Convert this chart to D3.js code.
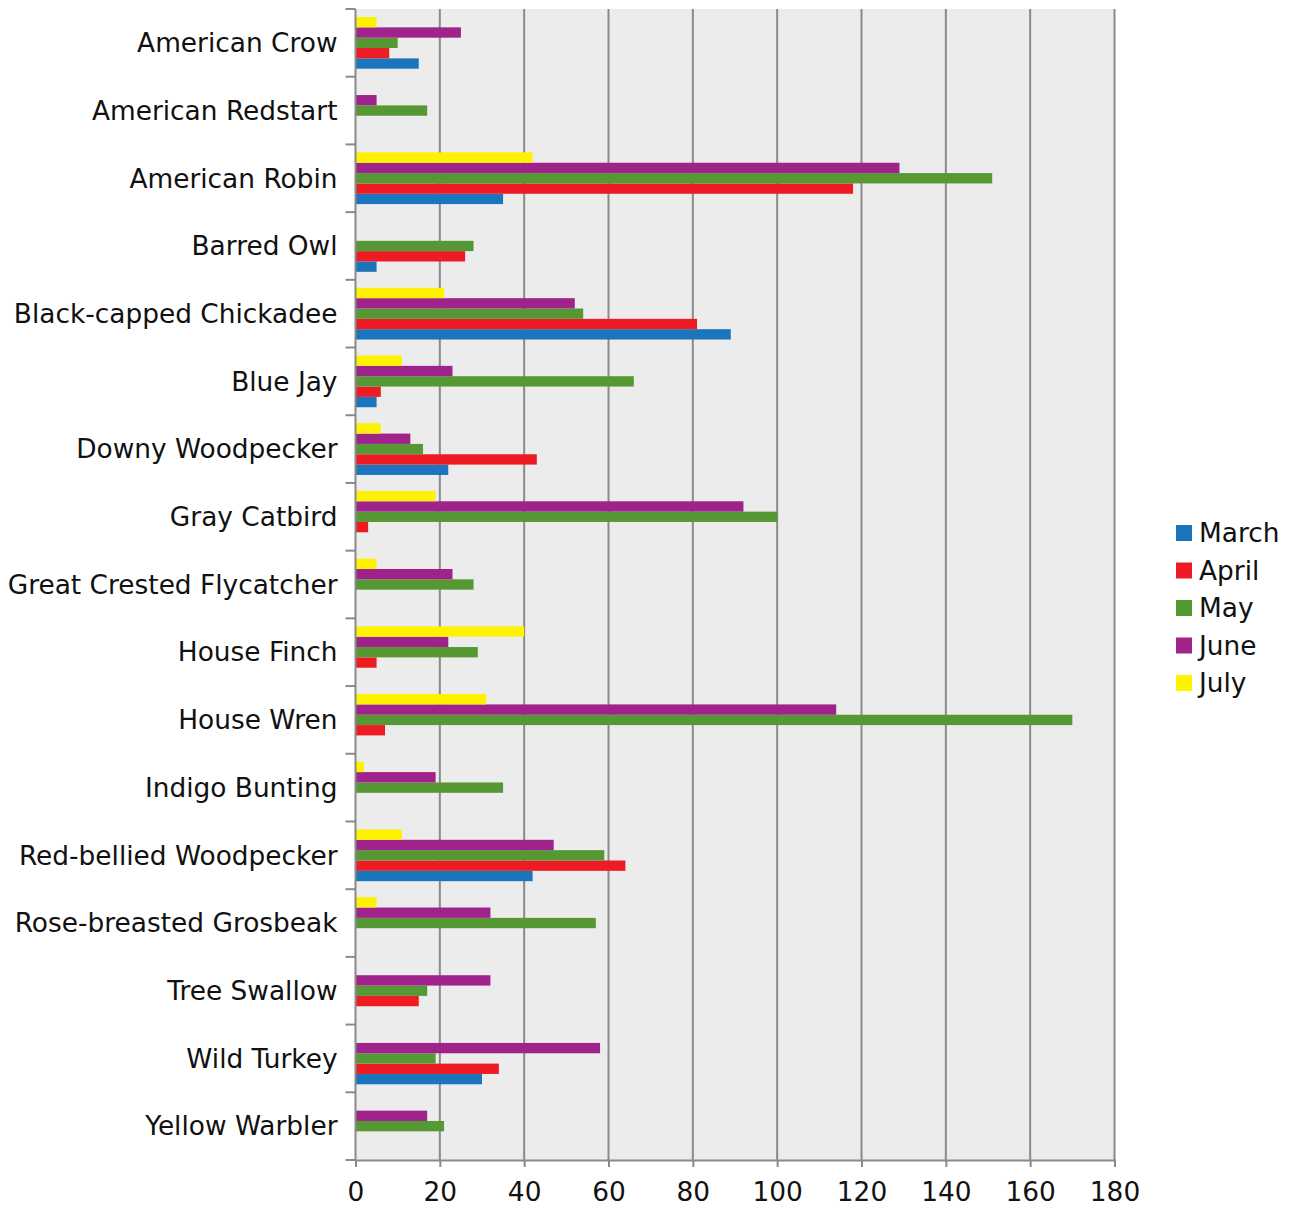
<!DOCTYPE html>
<html>
<head>
<meta charset="utf-8">
<script src="https://cdn.jsdelivr.net/npm/d3@7.9.0/dist/d3.min.js"></script>
<style>
  html, body { margin: 0; padding: 0; background: #fff; }
  svg { display: block; font-family: "DejaVu Sans", sans-serif; }
</style>
</head>
<body>
<svg id="chart" width="1294" height="1211"></svg>
<script>
// Bird species (top to bottom)
const birds = [
  'American Crow', 'American Redstart', 'American Robin', 'Barred Owl',
  'Black-capped Chickadee', 'Blue Jay', 'Downy Woodpecker', 'Gray Catbird',
  'Great Crested Flycatcher', 'House Finch', 'House Wren', 'Indigo Bunting',
  'Red-bellied Woodpecker', 'Rose-breasted Grosbeak', 'Tree Swallow',
  'Wild Turkey', 'Yellow Warbler'
];

const months = ['March', 'April', 'May', 'June', 'July'];

// counts per month, same order as birds
const march = [15, 0, 35, 5, 89, 5, 22, 0, 0, 0, 0, 0, 42, 0, 0, 30, 0];
const april = [8, 0, 118, 26, 81, 6, 43, 3, 0, 5, 7, 0, 64, 0, 15, 34, 0];
const may   = [10, 17, 151, 28, 54, 66, 16, 100, 28, 29, 170, 35, 59, 57, 17, 19, 21];
const june  = [25, 5, 129, 0, 52, 23, 13, 92, 23, 22, 114, 19, 47, 32, 32, 58, 17];
const july  = [5, 0, 42, 0, 21, 11, 6, 19, 5, 40, 31, 2, 11, 5, 0, 0, 0];

const xTicks = [0, 20, 40, 60, 80, 100, 120, 140, 160, 180];

const seriesValues = [march, april, may, june, july];
const colors = ['#1b75bc', '#ed1c24', '#569834', '#a0228b', '#fff200'];

const plotLeft = 355.5, plotRight = 1114.5, plotTop = 9, plotBottom = 1160;
const fontSize = 26.4;

const svg = d3.select('#chart');

let x = d3.scaleLinear().domain([0, 180]).range([plotLeft, plotRight]);
let y = d3.scaleBand().domain(birds).range([plotTop, plotBottom]).padding(0);

// months inside a band, July on top, March at bottom
let inner = d3.scaleBand()
  .domain(months.slice().reverse())
  .range([8, y.bandwidth() - 8]);

let color = d3.scaleOrdinal().domain(months).range(colors);

// plot background
svg.append('rect')
  .attr('x', plotLeft).attr('y', plotTop)
  .attr('width', plotRight - plotLeft).attr('height', plotBottom - plotTop)
  .attr('fill', '#ececec');

// vertical grid lines
svg.append('g')
  .selectAll('line')
  .data(xTicks.slice(1))
  .enter()
  .append('line')
  .attr('x1', (d) => x(d)).attr('x2', (d) => x(d))
  .attr('y1', plotTop).attr('y2', plotBottom)
  .attr('stroke', '#8a8a8a')
  .attr('stroke-width', 2);

// bars
let rows = [];
birds.forEach((b, i) => {
  months.forEach((m, j) => {
    let v = seriesValues[j][i];
    if (v > 0) rows.push({ bird: b, month: m, value: v });
  });
});

svg.append('g')
  .selectAll('rect')
  .data(rows)
  .enter()
  .append('rect')
  .attr('x', x(0))
  .attr('y', (d) => y(d.bird) + inner(d.month))
  .attr('width', (d) => x(d.value) - x(0))
  .attr('height', inner.bandwidth())
  .attr('fill', (d) => color(d.month));

// y axis line and boundary ticks
let yAxis = svg.append('g');
yAxis.append('line')
  .attr('x1', plotLeft).attr('x2', plotLeft)
  .attr('y1', plotTop).attr('y2', plotBottom)
  .attr('stroke', '#8a8a8a').attr('stroke-width', 2);

let bounds = birds.map((b) => y(b)).concat([plotBottom]);
yAxis.selectAll('.btick')
  .data(bounds)
  .enter()
  .append('line')
  .attr('class', 'btick')
  .attr('x1', plotLeft - 10).attr('x2', plotLeft)
  .attr('y1', (d) => d).attr('y2', (d) => d)
  .attr('stroke', '#8a8a8a').attr('stroke-width', 2);

yAxis.selectAll('text')
  .data(birds)
  .enter()
  .append('text')
  .attr('x', plotLeft - 18)
  .attr('y', (d) => y(d) + y.bandwidth() / 2)
  .attr('dy', '0.35em')
  .attr('text-anchor', 'end')
  .attr('font-size', fontSize)
  .attr('fill', '#111')
  .text((d) => d);

// x axis
let xAxis = svg.append('g')
  .attr('transform', `translate(0,${plotBottom})`)
  .call(d3.axisBottom(x).tickValues(xTicks).tickSize(7).tickPadding(15));

xAxis.select('.domain').attr('stroke', '#8a8a8a').attr('stroke-width', 2);
xAxis.selectAll('.tick line').attr('stroke', '#8a8a8a').attr('stroke-width', 2);
xAxis.selectAll('.tick text')
  .attr('font-size', fontSize)
  .attr('font-family', '"DejaVu Sans", sans-serif')
  .attr('fill', '#111');

// legend
let legend = svg.append('g').attr('transform', 'translate(1176,533)');
months.forEach((m, i) => {
  let row = legend.append('g').attr('transform', `translate(0,${i * 37.5})`);
  row.append('rect')
    .attr('x', 0).attr('y', -8)
    .attr('width', 16).attr('height', 16)
    .attr('fill', color(m));
  row.append('text')
    .attr('x', 23).attr('y', 0)
    .attr('dy', '0.35em')
    .attr('font-size', fontSize)
    .attr('fill', '#111')
    .text(m);
});
</script>
</body>
</html>
